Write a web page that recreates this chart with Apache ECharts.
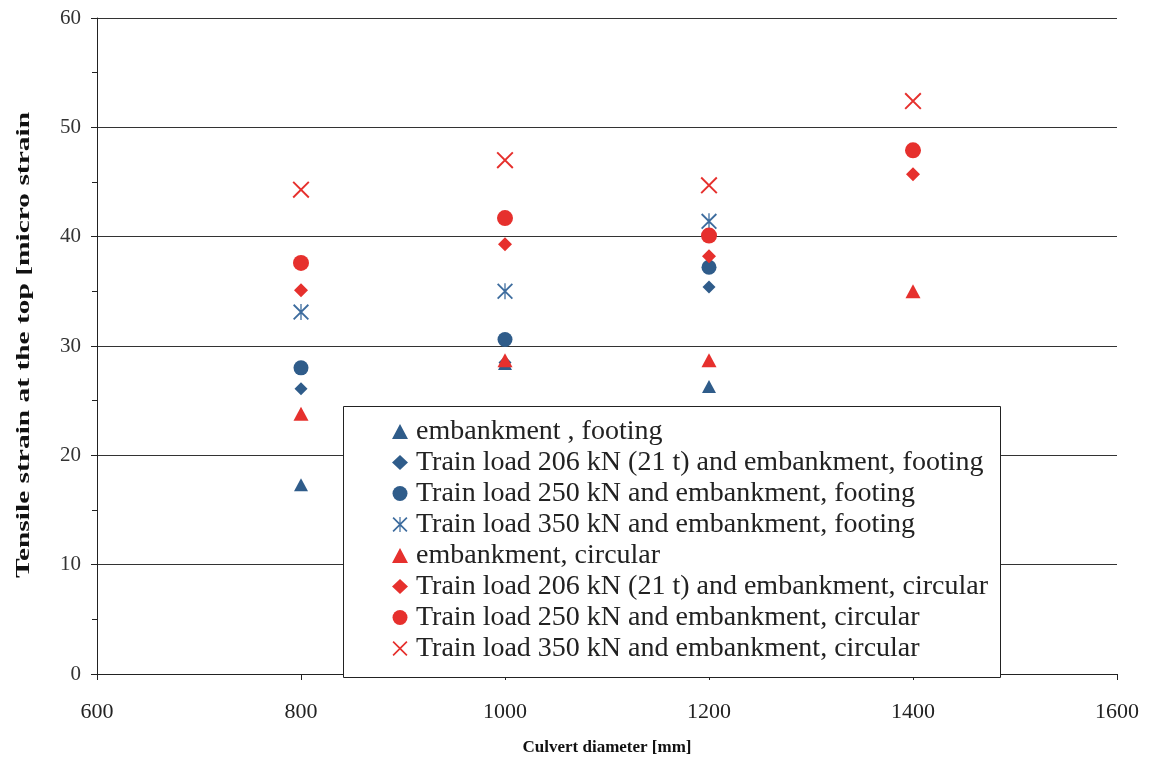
<!DOCTYPE html>
<html>
<head>
<meta charset="utf-8">
<script src="https://cdn.jsdelivr.net/npm/echarts@6/dist/echarts.min.js"></script>
<style>
  html, body { margin: 0; padding: 0; background: #ffffff; }
  #chart { width: 1155px; height: 767px; }
</style>
</head>
<body>
<div id="chart"></div>
<script>
// Culvert diameters [mm]
const diameters = [800, 1000, 1200, 1400];

// Tensile strain at the top [micro strain], one value per diameter (null = not measured)
const embFooting      = [17.3, 28.4, 26.3, null];
const t206Footing     = [26.1, 28.5, 35.4, null];
const t250Footing     = [28.0, 30.6, 37.2, null];
const t350Footing     = [33.1, 35.0, 41.4, null];
const embCircular     = [23.8, 28.7, 28.7, 35.0];
const t206Circular    = [35.1, 39.3, 38.2, 45.7];
const t250Circular    = [37.6, 41.7, 40.1, 47.9];
const t350Circular    = [44.3, 47.0, 44.7, 52.4];

const seriesNames = [
  'embankment , footing',
  'Train load 206 kN (21 t) and embankment, footing',
  'Train load 250 kN and embankment, footing',
  'Train load 350 kN and embankment, footing',
  'embankment, circular',
  'Train load 206 kN (21 t) and embankment, circular',
  'Train load 250 kN and embankment, circular',
  'Train load 350 kN and embankment, circular'
];

const yTitle = 'Tensile strain at the top [micro strain';
const xTitle = 'Culvert diameter [mm]';

const BLUE = '#2f5c8a';
const BLUE_LIGHT = '#3d6c9e';
const RED = '#e6302d';

// Filled outlines for the cross and asterisk markers
const CROSS = 'path://M0,8 L8,0 L100,92 L92,100 Z M92,0 L100,8 L8,100 L0,92 Z';
const STAR = 'path://M0,8 L8,0 L100,92 L92,100 Z M92,0 L100,8 L8,100 L0,92 Z M46,0 L54,0 L54,100 L46,100 Z';

function pairs(vals) {
  return diameters.map((d, i) => [d, vals[i]]).filter(p => p[1] !== null);
}

const defs = [
  { vals: embFooting,   color: BLUE,       symbol: 'triangle', size: [14, 13] },
  { vals: t206Footing,  color: BLUE,       symbol: 'diamond',  size: 13 },
  { vals: t250Footing,  color: BLUE,       symbol: 'circle',   size: 15 },
  { vals: t350Footing,  color: BLUE_LIGHT, symbol: STAR,       size: 16 },
  { vals: embCircular,  color: RED,        symbol: 'triangle', size: [15, 14] },
  { vals: t206Circular, color: RED,        symbol: 'diamond',  size: 14 },
  { vals: t250Circular, color: RED,        symbol: 'circle',   size: 16 },
  { vals: t350Circular, color: RED,        symbol: CROSS,      size: 17 }
];

const series = defs.map((d, i) => ({
  name: seriesNames[i],
  type: 'scatter',
  data: pairs(d.vals),
  symbol: d.symbol,
  symbolSize: d.size,
  itemStyle: { color: d.color, opacity: 1 },
  emphasis: { disabled: true },
  z: 2 + i
}));

const serif = '"Liberation Serif", "Times New Roman", serif';

// The vertical title is drawn tall and narrow: stretch it along its baseline to span the plot
const yTitleFont = 'bold 18px "Liberation Serif"';
const yTitleLength = 466;
const measureCtx = document.createElement('canvas').getContext('2d');
measureCtx.font = yTitleFont;
const yTitleScale = yTitleLength / measureCtx.measureText(yTitle).width;

const chart = echarts.init(document.getElementById('chart'), null, { renderer: 'canvas' });

chart.setOption({
  animation: false,
  backgroundColor: '#ffffff',
  grid: { left: 97, right: 38, top: 18, bottom: 93, containLabel: false },
  xAxis: {
    type: 'value',
    min: 600, max: 1600, interval: 200,
    name: xTitle,
    nameLocation: 'middle',
    nameGap: 65,
    nameTextStyle: { fontFamily: serif, fontSize: 17, fontWeight: 'bold', color: '#111' },
    axisLine: { show: true, onZero: false, lineStyle: { color: '#222', width: 1 } },
    axisTick: { show: true, inside: false, length: 6, lineStyle: { color: '#222' } },
    axisLabel: { margin: 27, fontFamily: serif, fontSize: 22, color: '#222', formatter: v => String(v) },
    splitLine: { show: false }
  },
  yAxis: {
    type: 'value',
    min: 0, max: 60, interval: 10,
    axisLine: { show: true, lineStyle: { color: '#222', width: 1 } },
    axisTick: { show: true, inside: false, length: 6, lineStyle: { color: '#222' } },
    minorTick: { show: true, splitNumber: 2, length: 5, lineStyle: { color: '#222' } },
    axisLabel: { margin: 16, fontFamily: serif, fontSize: 21, color: '#333' },
    splitLine: { show: true, lineStyle: { color: '#333', width: 1 } }
  },
  graphic: [
    {
      type: 'rect',
      left: 343, top: 406,
      shape: { width: 657, height: 271 },
      style: { fill: '#ffffff', stroke: '#222', lineWidth: 1 },
      z: 50
    },
    {
      type: 'text',
      x: 24, y: 345,
      rotation: Math.PI / 2,
      scaleX: yTitleScale,
      style: {
        text: yTitle,
        font: yTitleFont,
        fill: '#111',
        align: 'center',
        verticalAlign: 'middle'
      },
      z: 50
    }
  ],
  legend: {
    orient: 'vertical',
    left: 392,
    top: 416,
    itemGap: 0,
    itemWidth: 16,
    itemHeight: 15,
    padding: 0,
    z: 60,
    selectedMode: false,
    textStyle: { fontFamily: serif, fontSize: 28, lineHeight: 31, color: '#222', padding: [0, 0, 0, 3] },
    data: defs.map((d, i) => ({
      name: seriesNames[i],
      icon: d.symbol
    }))
  },
  series: series
});
</script>
</body>
</html>
